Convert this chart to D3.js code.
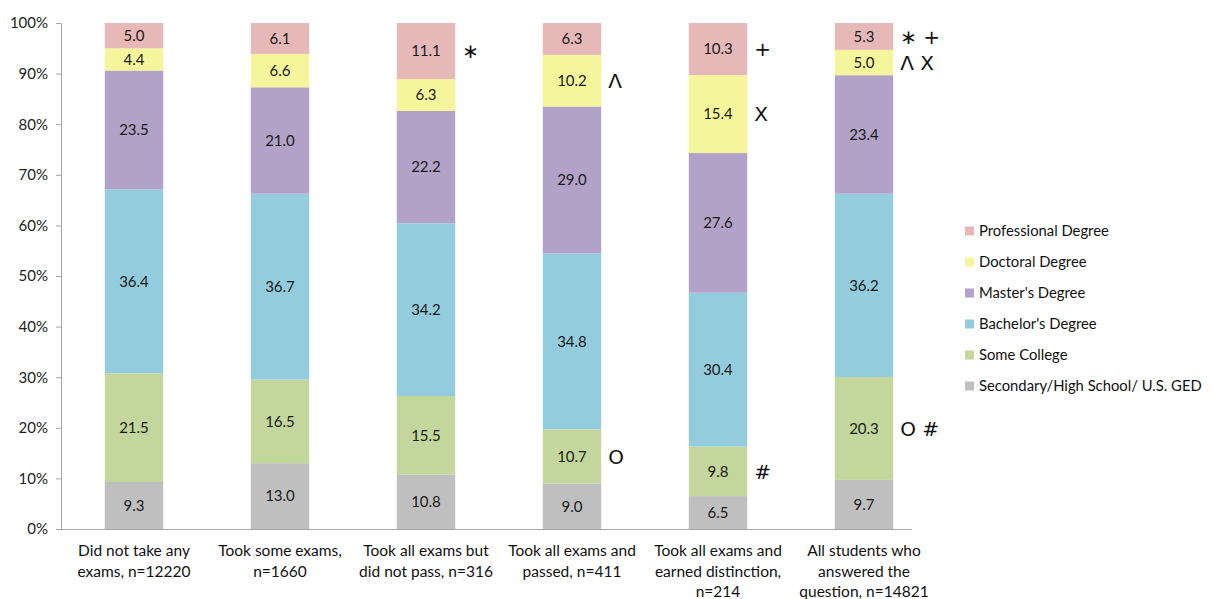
<!DOCTYPE html>
<html><head><meta charset="utf-8">
<script src="https://cdn.jsdelivr.net/npm/d3@7"></script>
<style>body{margin:0;background:#fff}svg{display:block}text{font-family:Lato,"Open Sans",sans-serif}</style>
</head><body><svg id="c" width="1212" height="599"></svg>
<script>
const categories = [
  ["Did not take any","exams, n=12220"],
  ["Took some exams,","n=1660"],
  ["Took all exams but","did not pass, n=316"],
  ["Took all exams and","passed, n=411"],
  ["Took all exams and","earned distinction,","n=214"],
  ["All students who","answered the","question, n=14821"]
];
const seriesNames = ["Secondary/High School/ U.S. GED","Some College","Bachelor's Degree","Master's Degree","Doctoral Degree","Professional Degree"];
const secondary    = [9.3, 13.0, 10.8, 9.0, 6.5, 9.7];
const someCollege  = [21.5, 16.5, 15.5, 10.7, 9.8, 20.3];
const bachelors    = [36.4, 36.7, 34.2, 34.8, 30.4, 36.2];
const masters      = [23.5, 21.0, 22.2, 29.0, 27.6, 23.4];
const doctoral     = [4.4, 6.6, 6.3, 10.2, 15.4, 5.0];
const professional = [5.0, 6.1, 11.1, 6.3, 10.3, 5.3];
const colors = ["#bfbfbf","#c3d69b","#93cddd","#b3a2c7","#f5f59b","#e6b9b8"];
const yTicks = [0,0.1,0.2,0.3,0.4,0.5,0.6,0.7,0.8,0.9,1.0];
// significance markers: [category index, series index, text]
const markers = [
  [2,5,"\u2217"],[3,4,"\u039B"],[3,1,"O"],
  [4,5,"+"],[4,4,"X"],[4,1,"#"],
  [5,5,"\u2217 +"],[5,4,"\u039B X"],[5,1,"O #"]
];

const allSeries = [secondary, someCollege, bachelors, masters, doctoral, professional];
const rows = categories.map((c,i)=>{const r={i}; seriesNames.forEach((s,k)=>r[s]=allSeries[k][i]); return r;});
const stacked = d3.stack().keys(seriesNames).offset(d3.stackOffsetExpand)(rows);

const svg = d3.select("#c");
const x0 = 61, yTop = 23, yBot = 529;
const x = d3.scaleBand().domain(d3.range(categories.length)).range([x0, x0+876]).paddingInner(0.6).paddingOuter(0.3);
const y = d3.scaleLinear().domain([0,1]).range([yBot, yTop]);

// bars
const g = svg.append("g");
stacked.forEach((layer,k)=>{
  g.selectAll(null).data(layer).enter().append("rect")
    .attr("x",(d,i)=>x(i)).attr("width",x.bandwidth())
    .attr("y",d=>y(d[1])).attr("height",d=>y(d[0])-y(d[1]))
    .attr("fill",colors[k]);
  g.selectAll(null).data(layer).enter().append("text")
    .attr("x",(d,i)=>x(i)+x.bandwidth()/2).attr("y",d=>(y(d[0])+y(d[1]))/2)
    .attr("dy","0.36em").attr("text-anchor","middle").attr("font-size",15).attr("fill","#1a1a1a")
    .text((d,i)=>allSeries[k][i].toFixed(1));
});

// markers
svg.selectAll(null).data(markers).enter().append("text")
  .attr("x",d=>x(d[0])+x.bandwidth()+7)
  .attr("y",d=>{const s=stacked[d[1]][d[0]]; return (y(s[0])+y(s[1]))/2;})
  .attr("dy","0.36em").attr("font-size",20).attr("fill","#111")
  .style("font-family","'DejaVu Sans',sans-serif")
  .text(d=>d[2]);

// y axis
const ya = svg.append("g").attr("transform",`translate(${x0},0)`)
  .call(d3.axisLeft(y).tickValues(yTicks).tickFormat(d3.format(".0%")).tickSize(5).tickPadding(8));
ya.select(".domain").attr("stroke","#a6a6a6");
ya.selectAll(".tick line").attr("stroke","#a6a6a6");
ya.selectAll(".tick text").attr("font-size",15).attr("fill","#222").style("font-family","Lato,sans-serif");

// x axis baseline
svg.append("line").attr("x1",x0).attr("x2",912).attr("y1",yBot+0.5).attr("y2",yBot+0.5).attr("stroke","#a6a6a6");

// x labels
categories.forEach((lines,i)=>{
  const t = svg.append("text").attr("text-anchor","middle").attr("font-size",15.5).attr("fill","#111")
    .attr("x",x(i)+x.bandwidth()/2).attr("y",556);
  lines.forEach((l,j)=>t.append("tspan").attr("x",x(i)+x.bandwidth()/2).attr("dy",j?20.5:0).text(l));
});

// legend
const legOrder = seriesNames.map((s,k)=>k).reverse();
const lg = svg.append("g").attr("transform","translate(965,231)");
legOrder.forEach((k,j)=>{
  const r = lg.append("g").attr("transform",`translate(0,${j*31})`);
  r.append("rect").attr("x",0).attr("y",-4.5).attr("width",9).attr("height",9).attr("fill",colors[k]);
  r.append("text").attr("x",14).attr("y",0).attr("dy","0.36em").attr("font-size",14.8).attr("fill","#111").text(seriesNames[k]);
});
</script></body></html>
